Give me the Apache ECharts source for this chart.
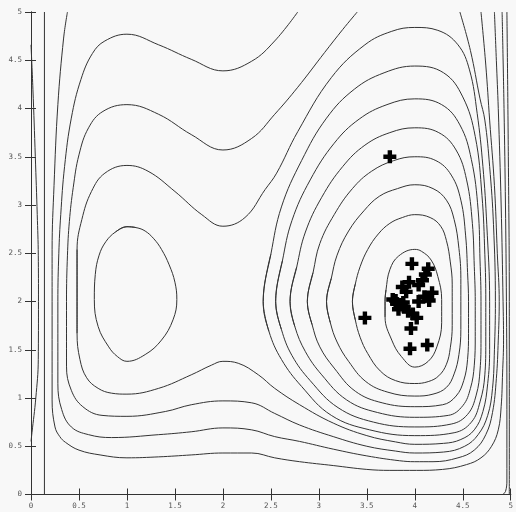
<!DOCTYPE html>
<html><head><meta charset="utf-8">
<script src="https://cdn.jsdelivr.net/npm/echarts@6/dist/echarts.min.js"></script>
<style>html,body{margin:0;padding:0;background:#f8f8f8}#c{width:516px;height:512px}</style>
</head><body><div id="c"></div>
<script>
const xTickLabels = ['0','0.5','1','1.5','2','2.5','3','3.5','4','4.5','5'];
const yTickLabels = ['0','0.5','1','1.5','2','2.5','3','3.5','4','4.5','5'];

// contour around the left minimum
const ringLeft = [[1.0,2.775],[1.10,2.765],[1.19,2.73],[1.28,2.65],[1.36,2.54],[1.44,2.38],[1.50,2.20],[1.52,2.02],[1.48,1.81],[1.36,1.60],[1.19,1.45],[1.0,1.38],[0.90,1.43],[0.81,1.53],[0.70,1.74],[0.66,2.02],[0.67,2.28],[0.71,2.48],[0.78,2.62],[0.88,2.72],[1.0,2.775]];

// rings around the right minimum (inner to outer)
const ringRight1 = [[3.69,2.0],[3.70,2.12],[3.74,2.33],[3.83,2.47],[4.0,2.54],[4.07,2.52],[4.17,2.43],[4.24,2.26],[4.28,2.02],[4.28,1.78],[4.23,1.53],[4.14,1.38],[4.0,1.32],[3.86,1.43],[3.76,1.60],[3.69,1.84],[3.69,2.0]];
const ringRight2 = [[3.35,2.0],[3.38,2.18],[3.43,2.36],[3.51,2.54],[3.62,2.70],[3.74,2.81],[3.87,2.87],[4.0,2.90],[4.16,2.87],[4.27,2.78],[4.33,2.63],[4.37,2.41],[4.39,2.18],[4.39,2.0],[4.39,1.75],[4.37,1.52],[4.33,1.35],[4.25,1.23],[4.14,1.17],[4.0,1.15],[3.80,1.18],[3.64,1.28],[3.51,1.46],[3.43,1.63],[3.38,1.81],[3.35,2.0]];
const ringRight3 = [[3.08,2.0],[3.13,2.24],[3.19,2.48],[3.31,2.73],[3.47,2.94],[3.63,3.09],[3.82,3.17],[4.0,3.21],[4.19,3.17],[4.33,3.05],[4.41,2.85],[4.46,2.55],[4.48,2.24],[4.48,2.0],[4.48,1.71],[4.46,1.45],[4.41,1.25],[4.33,1.11],[4.19,1.04],[4.0,1.02],[3.72,1.06],[3.49,1.17],[3.31,1.38],[3.19,1.58],[3.12,1.78],[3.08,2.0]];
const ringRight4 = [[2.88,2.0],[2.94,2.30],[3.01,2.60],[3.16,2.90],[3.35,3.17],[3.55,3.35],[3.78,3.46],[4.0,3.50],[4.22,3.46],[4.38,3.31],[4.48,3.05],[4.53,2.68],[4.55,2.30],[4.56,2.0],[4.56,1.67],[4.55,1.40],[4.51,1.18],[4.43,1.02],[4.29,0.93],[4.0,0.91],[3.66,0.95],[3.38,1.07],[3.16,1.31],[3.01,1.53],[2.93,1.76],[2.88,2.0]];
const ringRight5 = [[2.70,2.0],[2.77,2.36],[2.86,2.72],[3.03,3.08],[3.25,3.40],[3.48,3.62],[3.74,3.75],[4.0,3.80],[4.25,3.75],[4.43,3.57],[4.54,3.26],[4.60,2.81],[4.62,2.36],[4.63,2.0],[4.63,1.64],[4.62,1.34],[4.58,1.10],[4.50,0.92],[4.35,0.82],[4.0,0.80],[3.61,0.85],[3.29,0.98],[3.03,1.24],[2.86,1.48],[2.75,1.74],[2.70,2.0]];
const ringRight6 = [[2.55,2.0],[2.62,2.42],[2.72,2.84],[2.91,3.26],[3.16,3.64],[3.42,3.89],[3.71,4.04],[4.0,4.10],[4.28,4.04],[4.47,3.83],[4.59,3.47],[4.66,2.95],[4.68,2.42],[4.69,2.0],[4.69,1.61],[4.68,1.29],[4.64,1.03],[4.55,0.83],[4.38,0.73],[4.0,0.70],[3.57,0.75],[3.20,0.90],[2.91,1.18],[2.72,1.44],[2.61,1.71],[2.55,2.0]];
const ringRight7 = [[2.42,2.0],[2.50,2.49],[2.61,2.98],[2.82,3.46],[3.08,3.90],[3.37,4.20],[3.68,4.37],[4.0,4.44],[4.30,4.37],[4.50,4.12],[4.63,3.71],[4.70,3.10],[4.73,2.49],[4.74,2.0],[4.74,1.58],[4.73,1.24],[4.68,0.96],[4.59,0.75],[4.41,0.64],[4.0,0.61],[3.53,0.67],[3.13,0.82],[2.82,1.12],[2.61,1.40],[2.48,1.69],[2.42,2.0]];

// contours enclosing both minima
const outer1 = [[0.48,2.0],[0.48,2.54],[0.53,2.85],[0.63,3.14],[0.77,3.33],[1.0,3.41],[1.22,3.35],[1.50,3.14],[1.78,2.90],[2.0,2.78],[2.23,2.87],[2.44,3.16],[2.56,3.33],[2.78,3.76],[3.13,4.32],[3.48,4.66],[3.76,4.80],[4.0,4.84],[4.24,4.81],[4.45,4.66],[4.57,4.40],[4.65,3.95],[4.71,3.4],[4.75,2.8],[4.78,2.0],[4.78,1.5],[4.76,1.15],[4.71,0.86],[4.62,0.67],[4.48,0.57],[4.3,0.53],[4.0,0.52],[3.8,0.545],[3.5,0.61],[3.15,0.74],[2.8,0.93],[2.54,1.10],[2.37,1.24],[2.16,1.36],[2.0,1.38],[1.88,1.34],[1.67,1.24],[1.33,1.10],[1.0,1.04],[0.84,1.05],[0.70,1.10],[0.58,1.21],[0.51,1.40],[0.48,1.67],[0.48,2.0]];
const outer2 = [[4.47,5.0],[4.58,4.6],[4.68,4.1],[4.73,3.88],[4.78,3.4],[4.82,2.8],[4.84,2.0],[4.83,1.5],[4.81,1.1],[4.76,0.82],[4.66,0.62],[4.52,0.50],[4.3,0.44],[4.0,0.43],[3.8,0.45],[3.5,0.50],[3.15,0.60],[2.8,0.72],[2.54,0.84],[2.30,0.95],[2.0,0.97],[1.67,0.93],[1.40,0.86],[1.0,0.81],[0.74,0.82],[0.54,0.91],[0.42,1.08],[0.37,1.33],[0.37,2.0],[0.38,2.48],[0.40,2.83],[0.44,3.18],[0.50,3.52],[0.60,3.80],[0.75,3.97],[1.0,4.04],[1.33,3.94],[1.67,3.73],[2.0,3.57],[2.30,3.69],[2.54,3.94],[2.78,4.22],[3.06,4.58],[3.25,4.82],[3.40,5.0]];
const outer3 = [[4.69,5.0],[4.74,4.45],[4.78,3.88],[4.83,3.2],[4.86,2.5],[4.88,2.0],[4.87,1.6],[4.85,1.2],[4.81,0.85],[4.74,0.62],[4.62,0.46],[4.45,0.38],[4.19,0.34],[4.0,0.34],[3.84,0.35],[3.50,0.40],[3.15,0.47],[2.80,0.55],[2.54,0.60],[2.30,0.67],[2.0,0.69],[1.67,0.65],[1.33,0.62],[0.84,0.59],[0.60,0.62],[0.42,0.70],[0.32,0.88],[0.28,1.15],[0.28,2.0],[0.29,2.5],[0.31,2.9],[0.35,3.4],[0.42,3.9],[0.52,4.3],[0.64,4.57],[0.77,4.70],[1.0,4.77],[1.33,4.66],[1.67,4.51],[2.0,4.39],[2.30,4.49],[2.54,4.70],[2.78,5.0]];
const outer4 = [[4.83,5.0],[4.85,4.5],[4.87,4.0],[4.90,3.0],[4.92,2.0],[4.925,1.6],[4.915,1.26],[4.90,0.91],[4.87,0.67],[4.80,0.50],[4.69,0.38],[4.54,0.31],[4.29,0.26],[4.02,0.25],[3.74,0.25],[3.50,0.26],[3.15,0.30],[2.80,0.34],[2.54,0.38],[2.30,0.43],[2.0,0.43],[1.67,0.41],[1.33,0.39],[1.0,0.38],[0.72,0.41],[0.50,0.46],[0.36,0.54],[0.30,0.60],[0.25,0.70],[0.22,0.98],[0.22,2.0],[0.22,2.54],[0.24,3.2],[0.28,4.04],[0.34,4.73],[0.38,5.0]];

// steep contours along the left and right borders
const wallLeftStraight = [[0.14,0],[0.14,5]];
const wallLeftCurve = [[0.0,4.66],[0.02,4.2],[0.045,3.5],[0.065,2.9],[0.076,2.48],[0.078,2.0],[0.076,1.4],[0.05,1.0],[0.01,0.64],[0.0,0.55]];
const wallRight1 = [[4.91,5.0],[4.93,4.0],[4.945,3.0],[4.955,2.0],[4.96,1.0],[4.96,0.15],[4.945,0.03],[4.915,0.0]];
const wallRight2 = [[4.96,5.0],[4.975,3.5],[4.985,2.0],[4.985,0.0]];

// sample points (crosses)
const samples = [[3.74,3.50],[3.97,2.39],[4.14,2.34],[4.11,2.28],[4.08,2.22],[4.04,2.17],[3.94,2.20],[3.87,2.15],[3.91,2.10],[4.18,2.09],[4.15,2.01],[4.04,2.00],[3.77,2.02],[3.81,1.98],[3.86,1.97],[3.89,1.94],[3.83,1.92],[3.93,1.90],[3.98,1.87],[4.02,1.83],[3.96,1.72],[3.48,1.83],[3.95,1.51],[4.13,1.55],[3.80,2.01],[3.88,1.99],[4.10,2.05]];

const closedCurves = [ringLeft, ringRight1, ringRight2, ringRight3, ringRight4, ringRight5, ringRight6, ringRight7, outer1];
const openCurves = [outer2, outer3, outer4, wallLeftCurve, wallRight1, wallRight2];

// wrap closed loops so the start/end point is smoothed like any other point
const wrapLoop = d => [d[d.length - 2]].concat(d, [d[1]]);

const chart = echarts.init(document.getElementById('c'), null, {renderer: 'canvas'});
const lab = {fontFamily: 'DejaVu Sans Mono', fontSize: 7.5, color: '#555'};
const axLine = {show: true, lineStyle: {color: '#333', width: 1}};
const lineBase = {type: 'line', showSymbol: false, symbol: 'none', smooth: 0.4,
  lineStyle: {color: '#333', width: 1}, silent: true, clip: true, z: 2};
const series = [];
closedCurves.forEach(d => series.push(Object.assign({}, lineBase, {data: wrapLoop(d)})));
openCurves.forEach(d => series.push(Object.assign({}, lineBase, {data: d})));
series.push(Object.assign({}, lineBase, {data: wallLeftStraight, smooth: false}));
series.push({type: 'scatter', data: samples,
  symbol: 'path://M4.3,0L8.7,0L8.7,4.3L13,4.3L13,8.7L8.7,8.7L8.7,13L4.3,13L4.3,8.7L0,8.7L0,4.3L4.3,4.3Z',
  symbolSize: 13, itemStyle: {color: '#000', opacity: 1}, silent: true, z: 5});

chart.setOption({
  animation: false,
  backgroundColor: '#f8f8f8',
  grid: {left: 31, right: 4.5, top: 12, bottom: 17.5, show: false},
  xAxis: [
    {type: 'value', position: 'bottom', min: 0, max: 5, interval: 0.5,
     axisLine: axLine, axisTick: {show: true, length: 6, lineStyle: {color: '#333'}},
     axisLabel: Object.assign({margin: 8, formatter: v => xTickLabels[Math.round(v * 2)]}, lab),
     splitLine: {show: false}},
    {type: 'value', position: 'top', min: 0, max: 5, interval: 0.5,
     axisLine: axLine, axisTick: {show: true, length: 6, lineStyle: {color: '#333'}},
     axisLabel: {show: false}, splitLine: {show: false}}
  ],
  yAxis: [
    {type: 'value', position: 'left', min: 0, max: 5, interval: 0.5,
     axisLine: axLine, axisTick: {show: true, length: 6, lineStyle: {color: '#333'}},
     axisLabel: Object.assign({margin: 9, formatter: v => yTickLabels[Math.round(v * 2)]}, lab),
     splitLine: {show: false}},
    {type: 'value', position: 'right', min: 0, max: 5, interval: 0.5,
     axisLine: axLine, axisTick: {show: true, length: 5, lineStyle: {color: '#333'}},
     axisLabel: {show: false}, splitLine: {show: false}}
  ],
  series: series
});
</script></body></html>
